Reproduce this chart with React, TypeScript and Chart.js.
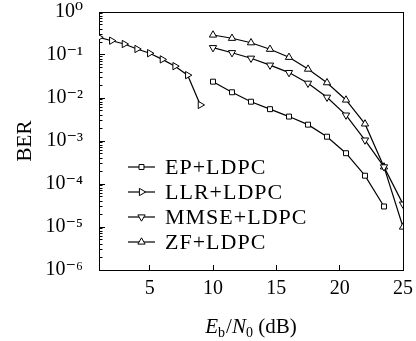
import React, { useEffect, useRef } from 'react';
import { Chart, registerables } from 'chart.js';
import * as helpers from 'chart.js/helpers';

Chart.register(...registerables);

// ---- data ----
const ebn0Llr = [1, 2, 3, 4, 5, 6, 7, 8, 9];
const berLlr = [0.258, 0.215, 0.18, 0.138, 0.11, 0.079, 0.055, 0.034, 0.0069];
const ebn0Hi = [10, 11.5, 13, 14.5, 16, 17.5, 19, 20.5, 22, 23.5, 25];
const berEp = [0.024, 0.0136, 0.0082, 0.0055, 0.0037, 0.0024, 0.00126, 0.00052, 0.000156, 0.00003];
const berMmse = [0.148, 0.113, 0.084, 0.058, 0.039, 0.022, 0.0104, 0.004, 0.00105, 0.00025, 0.000034];
const berZf = [0.292, 0.245, 0.193, 0.136, 0.0885, 0.047, 0.0227, 0.009, 0.0025, 0.00025, 0.00001];
const seriesNames = ['EP+LDPC', 'LLR+LDPC', 'MMSE+LDPC', 'ZF+LDPC'];
const xTicks = [5, 10, 15, 20, 25];
const yDecades = [0, -1, -2, -3, -4, -5, -6];
const yMinorMantissas = [2, 3, 4, 5, 6, 7, 8, 9];

const SERIF = '"Liberation Serif", "DejaVu Serif", serif';
const SUP: Record<string, string> = { '0': '⁰', '1': '¹', '2': '²', '3': '³', '4': '⁴', '5': '⁵', '6': '⁶', '-': '⁻' };
const sup = (s: string) => s.split('').map((c) => SUP[c] || c).join('');

const pts = (xs: number[], ys: number[]) => ys.map((y, i) => ({ x: xs[i], y }));

const extrasPlugin = {
  id: 'legendAndTitle',
  afterDraw(chart: any) {
    const ctx: CanvasRenderingContext2D = chart.ctx;
    const a = chart.chartArea;
    const L = a.left, R = a.right, T = a.top, B = a.bottom;
    ctx.save();
    // legend
    chart.data.datasets.forEach((ds: any, i: number) => {
      const y = T + 155 + i * 25;
      const x0 = L + 29;
      ctx.beginPath();
      ctx.strokeStyle = '#000';
      ctx.lineWidth = 1.2;
      ctx.moveTo(x0, y);
      ctx.lineTo(x0 + 27, y);
      ctx.stroke();
      ctx.fillStyle = '#fff';
      ctx.strokeStyle = '#000';
      ctx.lineWidth = 1;
      helpers.drawPoint(ctx, {
        pointStyle: ds.pointStyle,
        rotation: ds.pointRotation || 0,
        radius: ds.pointRadius,
        borderWidth: 1,
      } as any, x0 + 13.5, y);
      ctx.fillStyle = '#000';
      ctx.font = `22px ${SERIF}`;
      (ctx as any).letterSpacing = '1px';
      ctx.textBaseline = 'middle';
      ctx.textAlign = 'left';
      ctx.fillText(ds.label, x0 + 37, y + 1);
      (ctx as any).letterSpacing = '0px';
    });

    // x title: E_b/N_0 (dB)
    const big = `21px ${SERIF}`;
    const bigIt = `italic 21px ${SERIF}`;
    const small = `14px ${SERIF}`;
    const parts: [string, string, number][] = [
      ['E', bigIt, 0],
      ['b', small, 4],
      ['/', big, 0],
      ['N', bigIt, 0],
      ['0', small, 4],
      [' (dB)', big, 0],
    ];
    let w = 0;
    for (const [t, f] of parts) { ctx.font = f; w += ctx.measureText(t).width + (t === 'b' ? 1 : 0); }
    let x = (L + R) / 2 - w / 2;
    const base = B + 63;
    ctx.fillStyle = '#000';
    ctx.textBaseline = 'alphabetic';
    ctx.textAlign = 'left';
    for (const [t, f, dy] of parts) {
      ctx.font = f;
      ctx.fillText(t, x, base + dy);
      x += ctx.measureText(t).width + (t === 'b' ? 1 : 0);
    }
    ctx.restore();
  },
};

function makeDs(label: string, data: any[], pointStyle: string, rotation: number, radius: number) {
  return {
    label,
    data,
    xAxisID: 'x',
    yAxisID: 'y',
    borderColor: '#000',
    borderWidth: 1.2,
    backgroundColor: '#fff',
    pointStyle,
    pointRotation: rotation,
    pointRadius: radius,
    pointBorderWidth: 1,
    pointBackgroundColor: '#fff',
    pointBorderColor: '#000',
    tension: 0,
    fill: false,
  };
}

const blackBorder = { display: true, color: '#000', width: 1 };
const innerTicks = (len: number) => ({
  display: true,
  drawOnChartArea: false,
  drawTicks: true,
  tickLength: -len,
  color: '#000',
  tickColor: '#000',
  lineWidth: 1,
  tickWidth: 1,
});

export default function App() {
  const ref = useRef<HTMLCanvasElement | null>(null);
  useEffect(() => {
    document.body.style.margin = '0';
    const chart = new Chart(ref.current as HTMLCanvasElement, {
      type: 'line',
      data: {
        datasets: [
          makeDs(seriesNames[0], pts(ebn0Hi, berEp), 'rect', 0, 3.5),
          makeDs(seriesNames[1], pts(ebn0Llr, berLlr), 'triangle', 90, 4.2),
          makeDs(seriesNames[2], pts(ebn0Hi, berMmse), 'triangle', 180, 4.2),
          makeDs(seriesNames[3], pts(ebn0Hi, berZf), 'triangle', 0, 4.2),
        ] as any,
      },
      options: {
        animation: false,
        responsive: false,
        maintainAspectRatio: false,
        layout: { padding: { top: 12, right: 13, left: 0, bottom: 0 } },
        plugins: { legend: { display: false }, tooltip: { enabled: false } },
        scales: {
          x: {
            type: 'linear',
            position: 'bottom',
            min: 1,
            max: 25,
            grid: innerTicks(5),
            border: blackBorder,
            afterBuildTicks: (s: any) => { s.ticks = xTicks.map((v) => ({ value: v })); },
            afterFit: (s: any) => { s.height = 71; s.paddingLeft = 0; s.paddingRight = 0; },
            ticks: { color: '#000', font: { family: SERIF, size: 20 }, padding: 12, maxRotation: 0, autoSkip: false, callback: (v: any) => String(v) },
          },
          xTop: {
            type: 'linear',
            position: 'top',
            min: 1,
            max: 25,
            grid: { display: false },
            border: blackBorder,
            ticks: { display: false },
            afterFit: (s: any) => { s.height = 0; s.paddingLeft = 0; s.paddingRight = 0; },
          },
          y: {
            type: 'logarithmic',
            position: 'left',
            weight: 0,
            min: 1e-6,
            max: 1,
            grid: innerTicks(6),
            border: blackBorder,
            afterBuildTicks: (s: any) => { s.ticks = yDecades.map((d) => ({ value: Math.pow(10, d), major: true })); },
            afterFit: (s: any) => { s.width = 99; s.paddingTop = 0; s.paddingBottom = 0; },
            title: { display: true, text: 'BER', color: '#000', font: { family: SERIF, size: 21 }, padding: { top: 13, bottom: 0 } },
            ticks: {
              color: '#000',
              font: { family: SERIF, size: 20 },
              padding: 22,
              autoSkip: false,
              callback: (v: any) => '10' + sup(String(Math.round(Math.log10(Number(v))))),
            },
          },
          yMinor: {
            type: 'logarithmic',
            position: 'left',
            weight: -1,
            min: 1e-6,
            max: 1,
            grid: innerTicks(3.5),
            border: { display: false },
            afterBuildTicks: (s: any) => {
              const t: any[] = [];
              for (const d of yDecades) for (const m of yMinorMantissas) {
                const v = m * Math.pow(10, d);
                if (v <= 1) t.push({ value: v });
              }
              s.ticks = t;
            },
            ticks: { display: false, autoSkip: false },
            afterFit: (s: any) => { s.width = 0; s.paddingTop = 0; s.paddingBottom = 0; },
          },
          yRight: {
            type: 'logarithmic',
            position: 'right',
            min: 1e-6,
            max: 1,
            grid: { display: false },
            border: blackBorder,
            ticks: { display: false },
            afterFit: (s: any) => { s.width = 0; s.paddingTop = 0; s.paddingBottom = 0; },
          },
        },
      },
      plugins: [extrasPlugin],
    } as any);
    return () => chart.destroy();
  }, []);
  return (
    <div style={{ width: 416, height: 341 }}>
      <canvas ref={ref} width={416} height={341} style={{ display: 'block' }} />
    </div>
  );
}
